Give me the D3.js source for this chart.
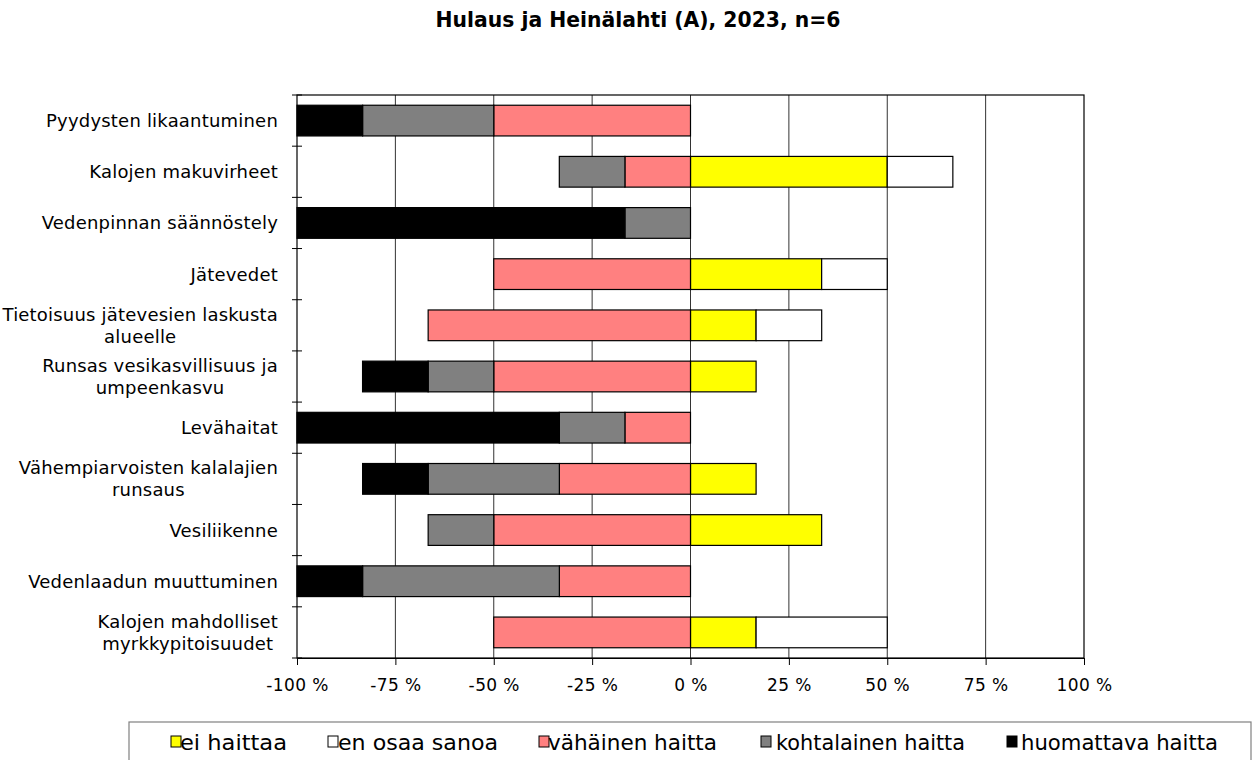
<!DOCTYPE html>
<html>
<head>
<meta charset="utf-8">
<script src="https://cdn.jsdelivr.net/npm/d3@7"></script>
<style>
  body { margin: 0; background: #fff; }
  svg { display: block; }
</style>
</head>
<body>
<div id="chart"></div>
<script>
// Data (percent of answers, n=6)
const categories = [
    'Pyydysten likaantuminen',
    'Kalojen makuvirheet',
    'Vedenpinnan säännöstely',
    'Jätevedet',
    'Tietoisuus jätevesien laskusta\nalueelle',
    'Runsas vesikasvillisuus ja\numpeenkasvu',
    'Levähaitat',
    'Vähempiarvoisten kalalajien\nrunsaus',
    'Vesiliikenne',
    'Vedenlaadun muuttuminen',
    'Kalojen mahdolliset\nmyrkkypitoisuudet'
];
const eiHaittaa   = [0, 50, 0, 33.33, 16.67, 16.67, 0, 16.67, 33.33, 0, 16.67];
const enOsaa      = [0, 16.67, 0, 16.67, 16.67, 0, 0, 0, 0, 0, 33.33];
const vahainen    = [50, 16.67, 0, 50, 66.67, 50, 16.67, 33.33, 50, 33.33, 50];
const kohtalainen = [33.33, 16.67, 16.67, 0, 0, 16.67, 16.67, 33.33, 16.67, 50, 0];
const huomattava  = [16.67, 0, 83.33, 0, 0, 16.67, 66.67, 16.67, 0, 16.67, 0];
const xTicks = [-100, -75, -50, -25, 0, 25, 50, 75, 100];

const seriesNames = ['ei haittaa', 'en osaa sanoa', 'vähäinen haitta', 'kohtalainen haitta', 'huomattava haitta'];
const colors = ['#ffff00', '#ffffff', '#ff8080', '#808080', '#000000'];

// Build rows for the diverging stack (harms go to the left)
const rows = categories.map((c, i) => ({
    cat: c,
    'ei haittaa': eiHaittaa[i],
    'en osaa sanoa': enOsaa[i],
    'vähäinen haitta': -vahainen[i],
    'kohtalainen haitta': -kohtalainen[i],
    'huomattava haitta': -huomattava[i]
}));

const width = 1254;
const height = 760;
const plot = { left: 297, right: 1084, top: 95, bottom: 658 };
const font = '"DejaVu Sans", sans-serif';

const svg = d3.select('#chart').append('svg')
    .attr('width', width)
    .attr('height', height);

// Title
svg.append('text')
    .attr('x', 638)
    .attr('y', 27)
    .attr('text-anchor', 'middle')
    .attr('textLength', 405)
    .attr('lengthAdjust', 'spacingAndGlyphs')
    .style('font-family', font)
    .style('font-weight', 'bold')
    .style('font-size', '21px')
    .text('Hulaus ja Heinälahti (A), 2023, n=6');

// Scales
const xScale = d3.scaleLinear().domain([-100, 100]).range([plot.left, plot.right]);
const yScale = d3.scaleBand().domain(categories).range([plot.top, plot.bottom]).paddingInner(0.4).paddingOuter(0.2);

// Gridlines
svg.append('g')
    .selectAll('line')
    .data(xTicks.slice(1, -1))
    .join('line')
    .attr('x1', d => xScale(d))
    .attr('x2', d => xScale(d))
    .attr('y1', plot.top)
    .attr('y2', plot.bottom)
    .attr('stroke', '#333')
    .attr('stroke-width', 1);

// Plot frame
svg.append('rect')
    .attr('x', plot.left)
    .attr('y', plot.top)
    .attr('width', plot.right - plot.left)
    .attr('height', plot.bottom - plot.top)
    .attr('fill', 'none')
    .attr('stroke', '#000')
    .attr('stroke-width', 1.2);

// Stacked bars
const stack = d3.stack().keys(seriesNames).offset(d3.stackOffsetDiverging);
const stacked = stack(rows);

svg.append('g')
    .selectAll('g')
    .data(stacked)
    .join('g')
    .attr('fill', (d, i) => colors[i])
    .selectAll('rect')
    .data(d => d.filter(s => s[1] - s[0] !== 0))
    .join('rect')
    .attr('x', d => xScale(Math.min(d[0], d[1])))
    .attr('width', d => Math.abs(xScale(d[1]) - xScale(d[0])))
    .attr('y', d => yScale(d.data.cat))
    .attr('height', yScale.bandwidth())
    .attr('stroke', '#000')
    .attr('stroke-width', 1.2);

// X axis
const xAxis = svg.append('g')
    .attr('transform', `translate(0, ${plot.bottom})`)
    .call(d3.axisBottom(xScale).tickValues(xTicks).tickSize(7).tickSizeOuter(0).tickFormat(d => `${d} %`));
xAxis.select('.domain').attr('stroke', '#000').attr('stroke-width', 1.2);
xAxis.selectAll('.tick line').attr('stroke', '#000');
xAxis.selectAll('.tick text')
    .attr('y', 21)
    .style('font-family', font)
    .style('font-size', '17px')
    .style('letter-spacing', '0.4px')
    .attr('fill', '#000');

// Y axis: ticks on category boundaries, crossing the axis
const boundaries = d3.range(categories.length + 1).map(i => plot.top + i * (plot.bottom - plot.top) / categories.length);
svg.append('g')
    .selectAll('line')
    .data(boundaries)
    .join('line')
    .attr('x1', plot.left - 5)
    .attr('x2', plot.left + 5)
    .attr('y1', d => d)
    .attr('y2', d => d)
    .attr('stroke', '#000');

// Category labels (centered lines, block right-aligned)
const labels = svg.append('g')
    .style('font-family', font)
    .style('font-size', '18px')
    .style('letter-spacing', '0.2px');

categories.forEach(c => {
    const lines = c.split('\n');
    const cy = yScale(c) + yScale.bandwidth() / 2;
    const lineH = 22;
    const t = labels.append('text')
        .attr('text-anchor', 'middle')
        .attr('fill', '#000');
    lines.forEach((ln, j) => {
        t.append('tspan')
            .attr('y', cy + (j - (lines.length - 1) / 2) * lineH + 6.5)
            .text(ln);
    });
    // measure widest line, then place block so it ends at x=278
    const w = d3.max(t.selectAll('tspan').nodes(), n => n.getComputedTextLength());
    const cx = 278 - w / 2;
    t.selectAll('tspan').attr('x', cx);
});

// Legend (box runs past the bottom edge of the picture)
const legend = svg.append('g');
legend.append('rect')
    .attr('x', 129)
    .attr('y', 722)
    .attr('width', 1122)
    .attr('height', 60)
    .attr('fill', '#fff')
    .attr('stroke', '#808080')
    .attr('stroke-width', 1.2);

const legendSq = [171, 328, 539, 761, 1007];
const legendTx = [180, 338, 548, 776, 1021];
const legendW = [107, 160, 169, 189, 197];
seriesNames.forEach((name, i) => {
    legend.append('rect')
        .attr('x', legendSq[i])
        .attr('y', 736)
        .attr('width', 10)
        .attr('height', 11)
        .attr('fill', colors[i])
        .attr('stroke', '#000')
        .attr('stroke-width', 1);
    legend.append('text')
        .attr('x', legendTx[i])
        .attr('y', 750)
        .attr('textLength', legendW[i])
        .attr('lengthAdjust', 'spacingAndGlyphs')
        .style('font-family', font)
        .style('font-size', '21px')
        .attr('fill', '#000')
        .text(name);
});
</script>
</body>
</html>
